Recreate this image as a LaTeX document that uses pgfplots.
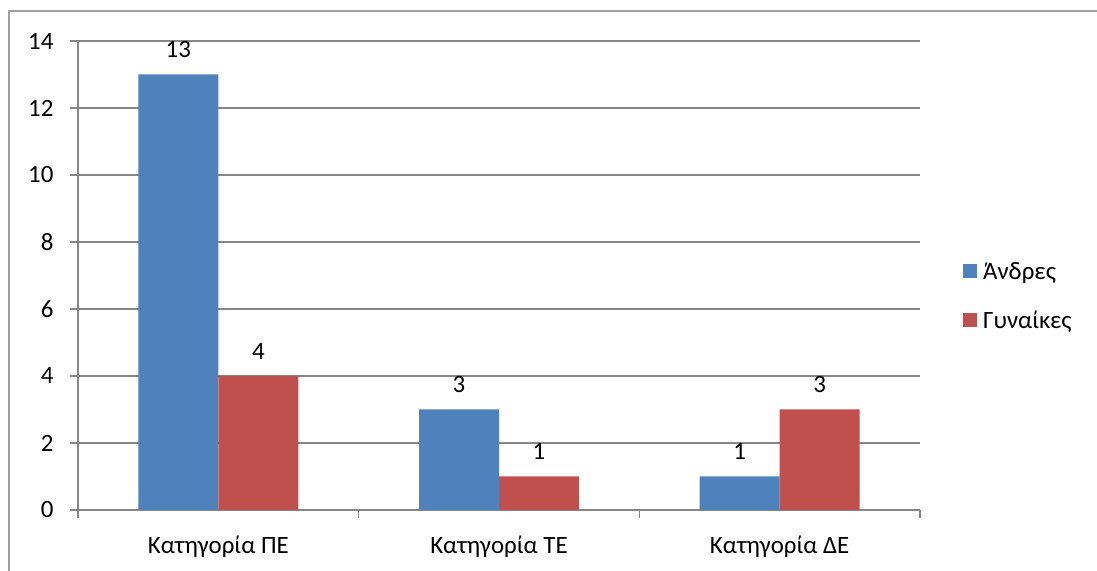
\documentclass[border=0pt]{standalone}
\usepackage{pgfplots}
\pgfplotsset{compat=1.18}
\usepackage{fontspec}
\setmainfont{Carlito}

\definecolor{barblue}{HTML}{4F81BD}
\definecolor{barred}{HTML}{C0504D}
\definecolor{gridgray}{HTML}{868686}
\definecolor{framegray}{HTML}{A0A0A0}

\begin{document}
\begin{tikzpicture}
    \useasboundingbox (0bp,0bp) rectangle (1097bp,571bp);
    % outer chart frame (cut off at right and bottom)
    \draw[framegray, line width=1.5bp] (9bp,-5bp) -- (9bp,560bp) -- (1105bp,560bp);

    \begin{axis}[
        at={(78bp,61bp)}, anchor=south west,
        scale only axis,
        width=842bp, height=469bp,
        xmin=-0.5, xmax=2.5,
        ymin=0, ymax=14,
        ytick={0,2,...,14},
        xtick={-0.5,0.5,1.5,2.5},
        xticklabels={},
        extra x ticks={0,1,2},
        extra x tick labels={Κατηγορία ΠΕ, Κατηγορία ΤΕ, Κατηγορία ΔΕ},
        extra x tick style={major tick length=0pt, xticklabel style={yshift=-22bp}},
        axis lines=left,
        axis line style={-, gridgray, line width=1.5bp},
        tick style={gridgray, line width=1.5bp},
        tick align=outside,
        major tick length=8bp,
        ymajorgrids,
        grid style={gridgray, line width=1.5bp},
        tick label style={font=\fontsize{25}{30}\selectfont, text=black},
        yticklabel style={xshift=-13bp},
        /pgf/number format/assume math mode=true,
        ybar, bar width=0.285,
        nodes near coords,
        every node near coord/.append style={font=\fontsize{25}{30}\selectfont, text=black, yshift=13bp},
        legend style={at={(1.051,0.533)}, anchor=north west, draw=none, fill=none,
            font=\fontsize{25}{30}\selectfont, row sep=26bp, inner sep=0pt,
            cells={anchor=west}, nodes={inner xsep=6bp}},
        ]

        \addplot[fill=barblue, draw=none, bar shift=-0.1425,
            legend image code/.code={\fill[barblue] (0bp,-7bp) rectangle (14bp,7bp);}]
        coordinates {(0,13) (1,3) (2,1)};
        \addlegendentry{Άνδρες}

        \addplot[fill=barred, draw=none, bar shift=0.1425,
            legend image code/.code={\fill[barred] (0bp,-7bp) rectangle (14bp,7bp);}]
        coordinates {(0,4) (1,1) (2,3)};
        \addlegendentry{Γυναίκες}

    \end{axis}
\end{tikzpicture}
\end{document}
